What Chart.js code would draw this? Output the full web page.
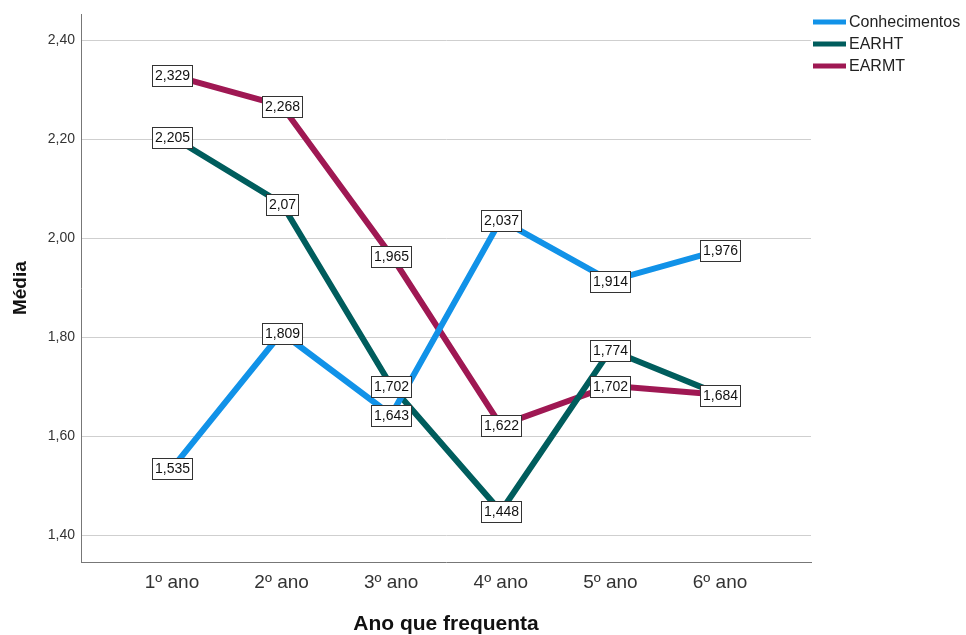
<!DOCTYPE html>
<html>
<head>
<meta charset="utf-8">
<script src="https://cdn.jsdelivr.net/npm/chart.js@4"></script>
<style>
html,body{margin:0;padding:0;background:#fff;}
#wrap{position:relative;width:966px;height:635px;}
</style>
</head>
<body>
<div id="wrap"><canvas id="c" width="966" height="635"></canvas></div>
<script>
const categories = ["1º ano","2º ano","3º ano","4º ano","5º ano","6º ano"];
const conhecimentos = [1.535, 1.809, 1.643, 2.037, 1.914, 1.976];
const earht = [2.205, 2.07, 1.702, 1.448, 1.774, 1.684];
const earmt = [2.329, 2.268, 1.965, 1.622, 1.702, 1.684];
const yTicks = [1.40, 1.60, 1.80, 2.00, 2.20, 2.40];
const seriesNames = ["Conhecimentos","EARHT","EARMT"];
const seriesColors = ["#1192e8","#005d5d","#9f1853"];

const FONT = "'Liberation Sans', Arial, sans-serif";
const fmt = v => String(v).replace('.', ',');

function toPoints(arr){ return arr.map((v,i)=>({x:i,y:v})); }

const allSeries = [conhecimentos, earht, earmt];

const labelPlugin = {
  id:'boxLabels',
  afterDatasetsDraw(chart){
    const ctx = chart.ctx;
    ctx.save();
    ctx.font = "14px " + FONT;
    ctx.textAlign = 'center';
    ctx.textBaseline = 'middle';
    chart.data.datasets.forEach((ds, di)=>{
      const meta = chart.getDatasetMeta(di);
      meta.data.forEach((pt, i)=>{
        const txt = fmt(ds.data[i].y);
        const w = Math.round(ctx.measureText(txt).width + 5);
        const h = 21;
        const x = Math.round(pt.x), y = Math.round(pt.y);
        const bx = Math.round(x - w/2), by = Math.round(y - h/2);
        ctx.fillStyle = '#fff';
        ctx.fillRect(bx, by, w, h);
        ctx.strokeStyle = '#333';
        ctx.lineWidth = 1;
        ctx.strokeRect(bx + 0.5, by + 0.5, w, h);
        ctx.fillStyle = '#111';
        ctx.fillText(txt, x + 0.5, y + 1.5);
      });
    });
    ctx.restore();
  }
};

const legendPlugin = {
  id:'customLegend',
  afterDraw(chart){
    const ctx = chart.ctx;
    ctx.save();
    ctx.font = "16px " + FONT;
    ctx.textBaseline = 'middle';
    ctx.textAlign = 'left';
    seriesNames.forEach((n,i)=>{
      const y = 22 + i*22;
      ctx.strokeStyle = seriesColors[i];
      ctx.lineWidth = 5;
      ctx.beginPath();
      ctx.moveTo(813, y);
      ctx.lineTo(846, y);
      ctx.stroke();
      ctx.fillStyle = '#222';
      ctx.fillText(n, 849, y + 1);
    });
    ctx.restore();
  }
};

new Chart(document.getElementById('c'), {
  type:'line',
  data:{
    datasets: allSeries.map((s,i)=>({
      label: seriesNames[i],
      data: toPoints(s),
      borderColor: seriesColors[i],
      backgroundColor: seriesColors[i],
      borderWidth: 6,
      pointRadius: 0,
      tension: 0,
      fill: false
    }))
  },
  options:{
    responsive:false,
    animation:false,
    layout:{padding:{left:0,right:155,top:12,bottom:0}},
    plugins:{legend:{display:false}, tooltip:{enabled:false}},
    scales:{
      x:{
        type:'linear',
        min:-0.83, max:5.83,
        afterBuildTicks(scale){ scale.ticks = categories.map((c,i)=>({value:i})); },
        afterFit(scale){ scale.height = 73; },
        grid:{display:false, drawTicks:false},
        border:{display:true, color:'#777', width:1},
        ticks:{
          padding:9,
          color:'#333',
          font:{family:FONT, size:19},
          callback:(v)=>categories[v] ?? '',
          maxRotation:0, autoSkip:false
        },
        title:{display:true, text:'Ano que frequenta', color:'#111',
          font:{family:FONT, size:21, weight:'bold', lineHeight:1}, padding:{top:0,bottom:0}}
      },
      y:{
        type:'linear',
        min:1.346, max:2.452,
        afterBuildTicks(scale){ scale.ticks = yTicks.map(v=>({value:v})); },
        afterFit(scale){ scale.width = 81; },
        grid:{color:'#cfcfcf', lineWidth:1, drawTicks:false},
        border:{display:true, color:'#777', width:1},
        ticks:{
          padding:6,
          color:'#333',
          font:{family:FONT, size:14},
          callback:(v)=>v.toFixed(2).replace('.', ',')
        },
        title:{display:true, text:'Média', color:'#111',
          font:{family:FONT, size:19, weight:'bold'}, padding:{top:9,bottom:0}}
      }
    }
  },
  plugins:[labelPlugin, legendPlugin]
});
</script>
</body>
</html>
